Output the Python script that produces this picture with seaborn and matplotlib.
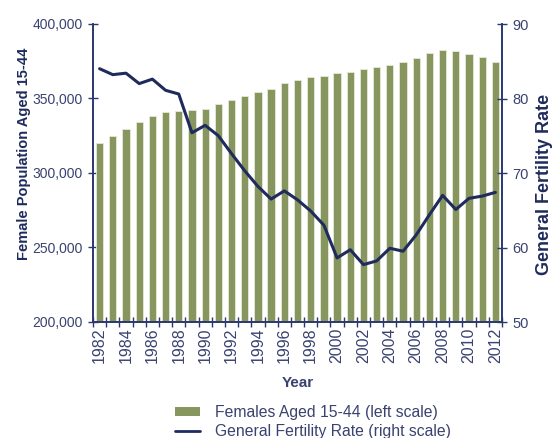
import numpy as np
import pandas as pd
import matplotlib
matplotlib.use('Agg')
import matplotlib.pyplot as plt
import seaborn as sns
from matplotlib.ticker import FuncFormatter, MultipleLocator
from matplotlib.patches import Patch
from matplotlib.lines import Line2D

years = list(range(1982, 2013))
females = [320000, 324800, 329700, 334000, 338500, 340700, 341600, 342300,
           343200, 346500, 349000, 351700, 354400, 356200, 360200, 362600,
           364200, 365100, 366900, 367800, 370000, 371100, 372500, 374700,
           377000, 380500, 382300, 381900, 380100, 377600, 374700]
gfr = [84.0, 83.2, 83.4, 82.0, 82.6, 81.1, 80.6, 75.4, 76.4, 75.0, 72.6,
       70.3, 68.2, 66.5, 67.6, 66.4, 64.9, 63.0, 58.6, 59.7, 57.7, 58.2,
       59.9, 59.5, 61.7, 64.4, 67.0, 65.1, 66.6, 66.9, 67.4]

df = pd.DataFrame({'Year': years, 'Females': females, 'GFR': gfr})

sns.set_style('white')
plt.rcParams['font.family'] = ['Liberation Sans', 'DejaVu Sans']

navy = '#1E2B5C'
axis_col = '#2B3870'
txt_col = '#3A4270'
green = '#87955E'

fig = plt.figure(figsize=(5.53, 4.38), dpi=100)
ax = fig.add_axes([93 / 553, 1 - 322 / 438, 409 / 553, 298 / 438])

sns.barplot(data=df, x='Year', y='Females', native_scale=True, width=0.55,
            color=green, saturation=1, edgecolor='#E6EAD6', linewidth=0.6, ax=ax)
ax.set_xlim(1981.5, 2012.5)
ax.set_ylim(200000, 400000)
ax.yaxis.set_major_locator(MultipleLocator(50000))
ax.yaxis.set_major_formatter(FuncFormatter(lambda v, p: f'{int(v):,}'))

ax2 = ax.twinx()
sns.lineplot(data=df, x='Year', y='GFR', color=navy, linewidth=2.2, ax=ax2)
ax2.set_ylim(50, 90)
ax2.yaxis.set_major_locator(MultipleLocator(10))

ax.set_xticks([y for y in years if y % 2 == 0])
ax.set_xticks(np.arange(1981.5, 2013, 1), minor=True)
ax.tick_params(axis='x', which='major', length=0, labelrotation=90,
               labelsize=11.5, labelcolor=txt_col, pad=4)
ax.tick_params(axis='x', which='minor', direction='inout', length=7,
               width=1, color=axis_col, bottom=True)
ax.tick_params(axis='y', direction='inout', length=7, width=1, color=axis_col,
               labelsize=10, labelcolor=txt_col, left=True, pad=4)
ax2.tick_params(axis='y', direction='inout', length=7, width=1, color=axis_col,
                labelsize=10.5, labelcolor=txt_col, right=True, pad=4)

for a in (ax, ax2):
    a.spines['top'].set_visible(False)
    for s in ('left', 'right', 'bottom'):
        a.spines[s].set_color(axis_col)
        a.spines[s].set_linewidth(1.2)

ax.set_xlabel('Year', fontsize=11, fontweight='bold', color=txt_col, labelpad=9)
ax.set_ylabel('Female Population Aged 15-44', fontsize=10.5, fontweight='bold',
              color=navy)
ax.yaxis.set_label_coords(-0.152, 0.564)
ax2.set_ylabel('General Fertility Rate', fontsize=13, fontweight='bold',
               color=navy)
ax2.yaxis.set_label_coords(1.082, 0.461)

handles = [Patch(facecolor=green, edgecolor='none'),
           Line2D([0], [0], color=navy, linewidth=2)]
labels = ['Females Aged 15-44 (left scale)', 'General Fertility Rate (right scale)']
fig.legend(handles, labels, loc='upper left', bbox_to_anchor=(175 / 553, 1 - 405 / 438),
           frameon=False, fontsize=11.3, handlelength=1.6, handleheight=0.45,
           labelspacing=0.28, handletextpad=0.95, borderpad=0, borderaxespad=0,
           labelcolor=txt_col)

fig.savefig('out.png', dpi=100)
